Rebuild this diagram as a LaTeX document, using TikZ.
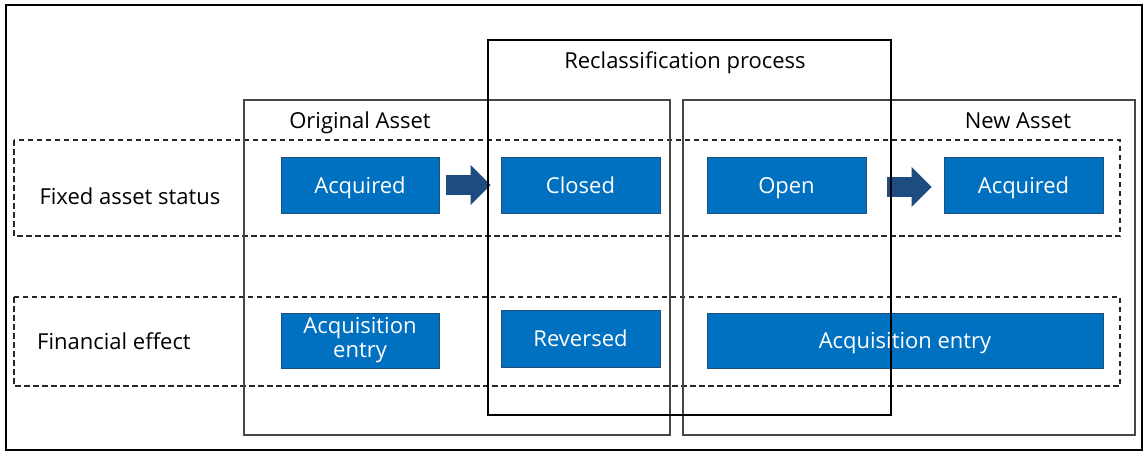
\documentclass[tikz,border=0pt]{standalone}
\usepackage{fontspec}
\setmainfont{Open Sans}
\usetikzlibrary{arrows.meta,calc}
\definecolor{boxblue}{RGB}{0,112,192}
\definecolor{boxedge}{RGB}{31,78,121}
\definecolor{arrowblue}{RGB}{28,76,128}
\definecolor{framegrey}{RGB}{70,70,70}
\tikzset{
  bluebox/.style={draw=boxedge, line width=0.8pt, fill=boxblue, text=white,
    minimum height=56pt, inner sep=0pt, align=center,
    font=\fontsize{22}{26}\selectfont},
  oneline/.style={text height=21pt, text depth=5pt},
  lbl/.style={inner sep=0pt, text height=21pt, text depth=5pt, font=\fontsize{22}{26}\selectfont},
  rowbox/.style={draw=black!85, line width=1.1pt, dash pattern=on 5.5pt off 3.5pt},
  groupbox/.style={draw=framegrey, line width=1.2pt},
  fatarrow/.style={draw=arrowblue, line width=20pt,
    -{Triangle[length=20pt,width=39pt]}},
}
\begin{document}
\begin{tikzpicture}[x=1pt,y=-1pt]
\useasboundingbox (0,0) rectangle (1147,452);
\fill[white] (0,0) rectangle (1147,452);
% outer frame
\draw[line width=2pt, black] (6,5) rectangle (1142,450);
% dashed rows
\draw[rowbox] (14,140) rectangle (1120,236);
\draw[rowbox] (14,297) rectangle (1120,386);
% group boxes
\draw[groupbox] (244,100) rectangle (670,435);
\draw[groupbox] (683,100) rectangle (1135,435);
% labels
\node[lbl] (orig) at (360,120) {Original Asset};
\node[lbl] (new) at (1018,120) {New Asset};
\node[lbl] (recl) at (685,60.5) {Reclassification process};
\node[lbl] (fas) at (130,196) {Fixed asset status};
\node[lbl] (fin) at (114,341) {Financial effect};
% blue boxes row 1
\node[bluebox, oneline, minimum width=158pt] (acq1) at (360,185) {Acquired};
\node[bluebox, oneline, minimum width=159pt] (closed) at (580.5,185) {Closed};
\node[bluebox, oneline, minimum width=159pt] (open) at (786.5,185) {Open};
\node[bluebox, oneline, minimum width=159pt] (acq2) at (1023.5,185) {Acquired};
% blue boxes row 2
\node[bluebox, minimum width=158pt, minimum height=55pt] (acqe1) at (360,340.5) {Acquisition\\[-2pt]entry};
\node[bluebox, oneline, minimum width=159pt, minimum height=57pt] (rev) at (580.5,338.5) {Reversed};
\node[bluebox, oneline, minimum width=396pt, minimum height=55pt] (acqe2) at (905,340.5) {Acquisition entry};
% arrows
\draw[fatarrow] ($(acq1.east)+(7,0)$) -- ($(closed.west)+(-10,0)$);
\draw[fatarrow] ($(open.east)+(21,2)$) -- ($(acq2.west)+(-12,2)$);
% reclassification box on top
\draw[draw=black, line width=1.2pt] (488,40) rectangle (891,415);
\end{tikzpicture}
\end{document}
